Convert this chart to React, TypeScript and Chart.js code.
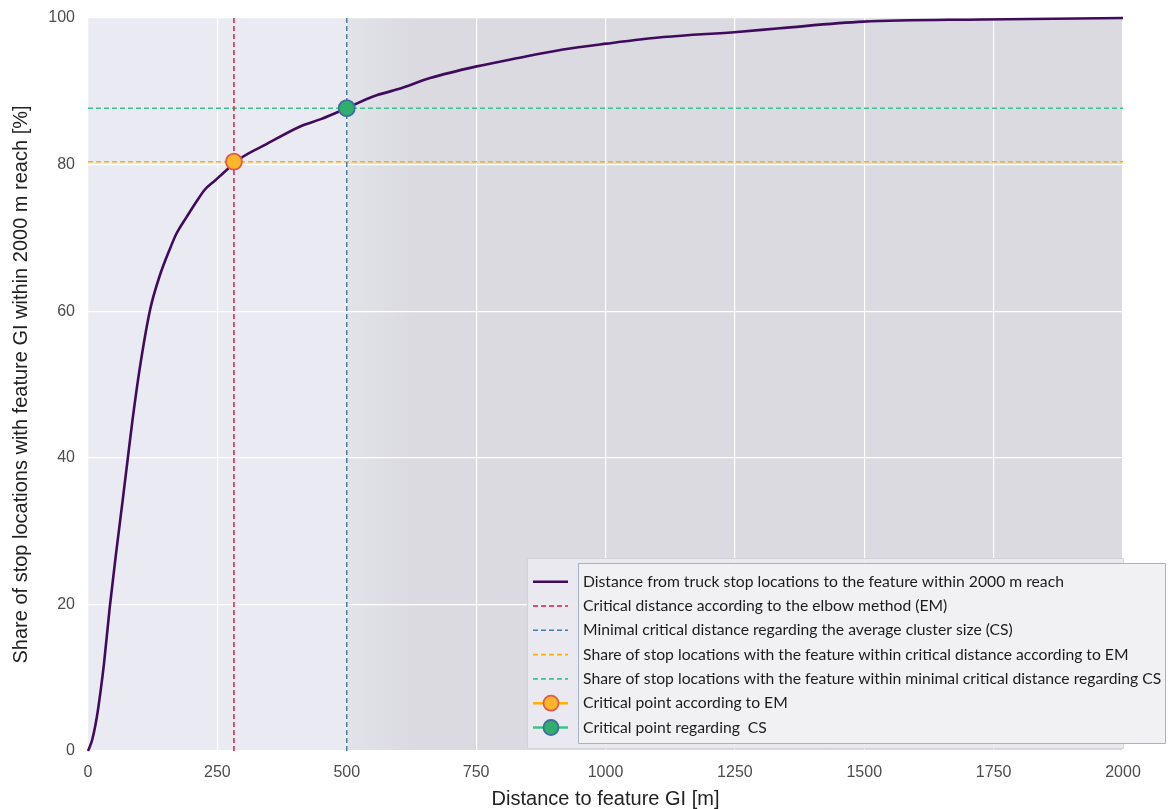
import React, { useEffect, useRef } from "react";
import { Chart, registerables } from "chart.js";

Chart.register(...registerables);

// ---- data ----
const distances = [0, 8, 17, 24, 31, 42, 55, 67, 77, 85, 100, 120, 138, 160, 171, 191, 210, 226, 245, 262, 282, 300, 345, 410, 450, 500, 551, 600, 661, 751, 828, 918, 1002, 1112, 1254, 1337, 1498, 1730, 2000];
const shares = [0, 1.5, 4.6, 8, 12, 19.6, 27.4, 34.2, 40, 44.6, 52.2, 60.2, 64.7, 68.8, 70.6, 72.9, 75, 76.6, 77.8, 78.9, 80.1, 81.1, 82.8, 85.2, 86.2, 87.7, 89.3, 90.3, 91.8, 93.4, 94.5, 95.7, 96.5, 97.4, 98.1, 98.6, 99.5, 99.8, 100];

const emDistance = 282;
const emShare = 80.4;
const csDistance = 500;
const csShare = 87.7;

const xTickValues = [0, 250, 500, 750, 1000, 1250, 1500, 1750, 2000];
const yTickValues = [0, 20, 40, 60, 80, 100];

const xTitle = "Distance to feature GI [m]";
const yTitle = "Share of stop locations with feature GI within 2000 m reach [%]";

const legendLabels = [
  "Distance from truck stop locations to the feature within 2000 m reach",
  "Critical distance according to the elbow method (EM)",
  "Minimal critical distance regarding the average cluster size (CS)",
  "Share of stop locations with the feature within critical distance according to EM",
  "Share of stop locations with the feature within minimal critical distance regarding CS",
  "Critical point according to EM",
  "Critical point regarding  CS",
];

// ---- styles ----
const C_CURVE = "#3f0b5c";
const C_RED = "#dc1f48";
const C_BLUE = "#4b7aa3";
const C_YELLOW = "#ffb000";
const C_GREEN = "#3fc08d";
const TICK_FONT = { family: "'Liberation Sans', Arial, sans-serif", size: 16 };
const TITLE_FONT = { family: "'Liberation Sans', Arial, sans-serif", size: 20, lineHeight: 1.0 };

const backgroundPlugin = {
  id: "bgRegions",
  beforeDraw(chart: any) {
    const { ctx, chartArea: a, scales } = chart;
    const xs = scales.x.getPixelForValue(csDistance);
    ctx.save();
    ctx.fillStyle = "#eaeaf2";
    ctx.fillRect(a.left, a.top, xs - a.left, a.bottom - a.top);
    const g = ctx.createLinearGradient(xs, 0, xs + 70, 0);
    g.addColorStop(0, "#e2e2e9");
    g.addColorStop(1, "#dadae0");
    ctx.fillStyle = g;
    ctx.fillRect(xs, a.top, a.right - xs, a.bottom - a.top);
    ctx.restore();
  },
};

const legendPlugin = {
  id: "customLegend",
  afterDraw(chart: any) {
    const { ctx, chartArea: a } = chart;
    ctx.save();
    // outer (matplotlib-style) frame
    ctx.fillStyle = "rgba(234,234,240,0.92)";
    ctx.strokeStyle = "#d2d2da";
    ctx.lineWidth = 1;
    ctx.beginPath();
    ctx.rect(527.5, 558.5, a.right - 527, 190);
    ctx.fill();
    ctx.stroke();
    // inner text box
    ctx.fillStyle = "#f1f1f3";
    ctx.strokeStyle = "#a9b3c6";
    ctx.beginPath();
    ctx.rect(578.5, 563.5, 587, 180);
    ctx.fill();
    ctx.stroke();

    const rowTop = 581.7;
    const rowStep = 24.3;
    chart.data.datasets.forEach((ds: any, i: number) => {
      const y = rowTop + i * rowStep;
      const lineColor = ds.legendLine || ds.borderColor;
      ctx.save();
      ctx.strokeStyle = lineColor;
      ctx.lineWidth = ds.borderDash && ds.borderDash.length ? 1.6 : 2.6;
      ctx.setLineDash(ds.borderDash || []);
      ctx.beginPath();
      ctx.moveTo(533, y);
      ctx.lineTo(568, y);
      ctx.stroke();
      ctx.setLineDash([]);
      if (ds.pointRadius > 0) {
        ctx.beginPath();
        ctx.arc(551, y, 7.5, 0, Math.PI * 2);
        ctx.fillStyle = ds.pointBackgroundColor;
        ctx.fill();
        ctx.lineWidth = 1.8;
        ctx.strokeStyle = ds.pointBorderColor;
        ctx.stroke();
      }
      ctx.restore();
      ctx.fillStyle = "#1c1c1c";
      ctx.font = "15.7px Lato, 'Liberation Sans', sans-serif";
      ctx.textBaseline = "middle";
      ctx.textAlign = "left";
      ctx.fillText(ds.label, 583, y);
    });
    ctx.restore();
  },
};

export default function App() {
  const ref = useRef<HTMLCanvasElement | null>(null);

  useEffect(() => {
    if (!ref.current) return;
    const curve = distances.map((d, i) => ({ x: d, y: shares[i] }));
    const dashed = { borderWidth: 1.5, borderDash: [5, 3], pointRadius: 0, order: 2 };
    const chart = new Chart(ref.current, {
      type: "line",
      data: {
        datasets: [
          {
            label: legendLabels[0],
            data: curve,
            borderColor: C_CURVE,
            borderWidth: 2.6,
            pointRadius: 0,
            cubicInterpolationMode: "monotone",
            order: 1,
          } as any,
          {
            label: legendLabels[1],
            data: [{ x: emDistance, y: 0 }, { x: emDistance, y: 100 }],
            borderColor: C_RED,
            ...dashed,
          },
          {
            label: legendLabels[2],
            data: [{ x: csDistance, y: 0 }, { x: csDistance, y: 100 }],
            borderColor: C_BLUE,
            ...dashed,
          },
          {
            label: legendLabels[3],
            data: [{ x: 0, y: emShare }, { x: 2000, y: emShare }],
            borderColor: C_YELLOW,
            ...dashed,
          },
          {
            label: legendLabels[4],
            data: [{ x: 0, y: csShare }, { x: 2000, y: csShare }],
            borderColor: C_GREEN,
            ...dashed,
          },
          {
            label: legendLabels[5],
            data: [{ x: emDistance, y: emShare }],
            borderColor: "#e05a48",
            legendLine: C_YELLOW,
            showLine: false,
            pointRadius: 8,
            pointBorderWidth: 1.8,
            pointBackgroundColor: "#fdb62a",
            pointBorderColor: "#e05a48",
            order: 0,
          } as any,
          {
            label: legendLabels[6],
            data: [{ x: csDistance, y: csShare }],
            borderColor: "#3d6e9e",
            legendLine: C_GREEN,
            showLine: false,
            pointRadius: 8,
            pointBorderWidth: 1.8,
            pointBackgroundColor: "#2fae6d",
            pointBorderColor: "#3d6e9e",
            order: 0,
          } as any,
        ],
      },
      options: {
        animation: false,
        responsive: true,
        maintainAspectRatio: false,
        clip: false as any,
        layout: { padding: { left: 0, right: 46, top: 18, bottom: 0 } },
        plugins: {
          legend: { display: false },
          tooltip: { enabled: false },
        },
        scales: {
          x: {
            type: "linear",
            min: 0,
            max: 2000,
            afterBuildTicks: (s: any) => {
              s.ticks = xTickValues.map((v) => ({ value: v }));
            },
            afterFit: (s: any) => {
              s.height = 58;
            },
            border: { display: false },
            grid: { color: "#ffffff", lineWidth: 1.2, drawTicks: false },
            ticks: { font: TICK_FONT, color: "#4d4d4d", padding: 12, maxRotation: 0, callback: (v: any) => String(v) },
            title: { display: true, text: xTitle, font: TITLE_FONT, color: "#222222", padding: { top: 0, bottom: 0 } },
          },
          y: {
            type: "linear",
            min: 0,
            max: 100,
            afterBuildTicks: (s: any) => {
              s.ticks = yTickValues.map((v) => ({ value: v }));
            },
            afterFit: (s: any) => {
              s.width = 88;
              s.paddingTop = 0;
              s.paddingBottom = 0;
            },
            border: { display: false },
            grid: { color: "#ffffff", lineWidth: 1.2, drawTicks: false },
            ticks: { font: TICK_FONT, color: "#4d4d4d", padding: 13, callback: (v: any) => String(v) },
            title: { display: true, text: yTitle, font: TITLE_FONT, color: "#222222", padding: { top: 11, bottom: 0 } },
          },
        },
      },
      plugins: [backgroundPlugin, legendPlugin],
    });
    return () => chart.destroy();
  }, []);

  return (
    <div style={{ position: "absolute", left: 0, top: 0, width: 1169, height: 809, background: "#ffffff" }}>
      <canvas ref={ref} />
    </div>
  );
}
